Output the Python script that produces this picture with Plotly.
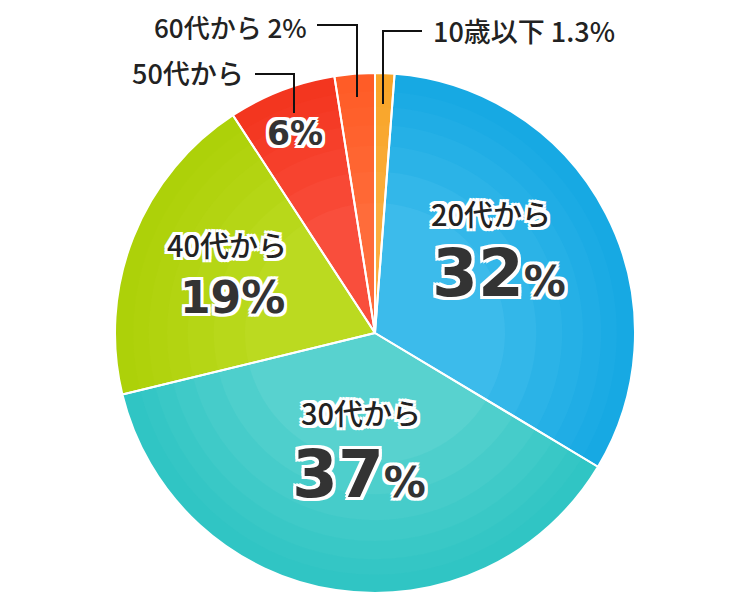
import plotly.graph_objects as go

# 年代別の割合（時計回り、真上から）
groups = ["10歳以下", "20代から", "30代から", "40代から", "50代から", "60代から"]
shares = [1.2, 32.4, 37.6, 19.6, 6.7, 2.5]
pct_labels = ["1.3%", "32", "37", "19%", "6%", "2%"]
colors = ["#FBAE3E", "#3CBBEB", "#58D2CF", "#BBDA20", "#F94E3C", "#FF6C3A"]
rim_colors = ["#F6A020", "#05A0E2", "#1CC3BE", "#A6CE00", "#F22A10", "#FF5520"]

W, H = 750, 601
OFF = 8  # ページ本体の余白ぶん

dom = dict(x=[(115 - OFF) / W, (635 - OFF) / W],
           y=[1 - (593 - OFF) / H, 1 - (73 - OFF) / H])

fig = go.Figure(go.Pie(
    labels=groups, values=shares, sort=False, direction="clockwise", rotation=0,
    marker=dict(colors=colors, line=dict(color="white", width=0)),
    textinfo="none", hoverinfo="label+percent", showlegend=False, domain=dom,
))


def rgba(hex_c, a):
    h = hex_c.lstrip("#")
    return f"rgba({int(h[0:2], 16)},{int(h[2:4], 16)},{int(h[4:6], 16)},{a})"


# 外周ほど濃くなるグラデーションの代わりに薄いリングを重ねる
for hole in (0.5, 0.62, 0.72, 0.8, 0.87, 0.93):
    fig.add_trace(go.Pie(
        labels=groups, values=shares, sort=False, direction="clockwise", rotation=0,
        hole=hole, marker=dict(colors=[rgba(c, 0.16) for c in rim_colors], line=dict(width=0)),
        textinfo="none", hoverinfo="skip", showlegend=False, domain=dom,
    ))

# 白い区切り線
fig.add_trace(go.Pie(
    labels=groups, values=shares, sort=False, direction="clockwise", rotation=0,
    marker=dict(colors=["rgba(0,0,0,0)"] * len(groups), line=dict(color="white", width=2)),
    textinfo="none", hoverinfo="skip", showlegend=False, domain=dom,
))

halo = ", ".join(f"{dx}px {dy}px 0 #fff" for dx in (-3, 0, 3) for dy in (-3, 0, 3) if dx or dy)
jp = "Noto Sans CJK JP"
big = "DejaVu Sans"


def px(x, y):
    return (x - OFF) / W, 1 - (y - OFF) / H


def note(x, y, text, size, weight=500, family=jp, xanchor="center", shadow=True, color="#222"):
    ax, ay = px(x, y)
    fig.add_annotation(x=ax, y=ay, xref="paper", yref="paper", text=text, showarrow=False,
                       xanchor=xanchor, yanchor="middle", borderpad=0,
                       font=dict(family=family, size=size, color=color, weight=weight,
                                 shadow=halo if shadow else "none"))


def leader(pts):
    path = "M " + " L ".join(f"{(x - OFF) / W} {1 - (y - OFF) / H}" for x, y in pts)
    fig.add_shape(type="path", path=path, xref="paper", yref="paper",
                  line=dict(color="#111", width=2))


# 内側ラベル
note(491, 213, groups[1], 29)
note(499, 273, f"{pct_labels[1]}<span style='font-size:42px'>%</span>", 66, 900, big, color="#333")
note(361, 412, groups[2], 29)
note(359, 474, f"{pct_labels[2]}<span style='font-size:42px'>%</span>", 66, 900, big, color="#333")
note(227, 244, groups[3], 29)
note(232, 297, pct_labels[3], 44, 900, big, color="#333")
note(295, 133, pct_labels[4], 33, 900, big, color="#333")

# 外側ラベルと引き出し線
note(308, 27, f"{groups[5]} {pct_labels[5]}", 26, 500, xanchor="right", shadow=False)
leader([(317, 25), (357, 25), (357, 97)])
note(432, 31, f"{groups[0]} {pct_labels[0]}", 27, 500, xanchor="left", shadow=False)
leader([(422, 31), (383, 31), (383, 104)])
note(245, 72, groups[4], 27, 500, xanchor="right", shadow=False)
leader([(255, 74), (294, 74), (294, 113)])

fig.update_layout(width=W, height=H, margin=dict(l=0, r=0, t=0, b=0),
                  paper_bgcolor="white", plot_bgcolor="white")

fig.write_html("out.html")
